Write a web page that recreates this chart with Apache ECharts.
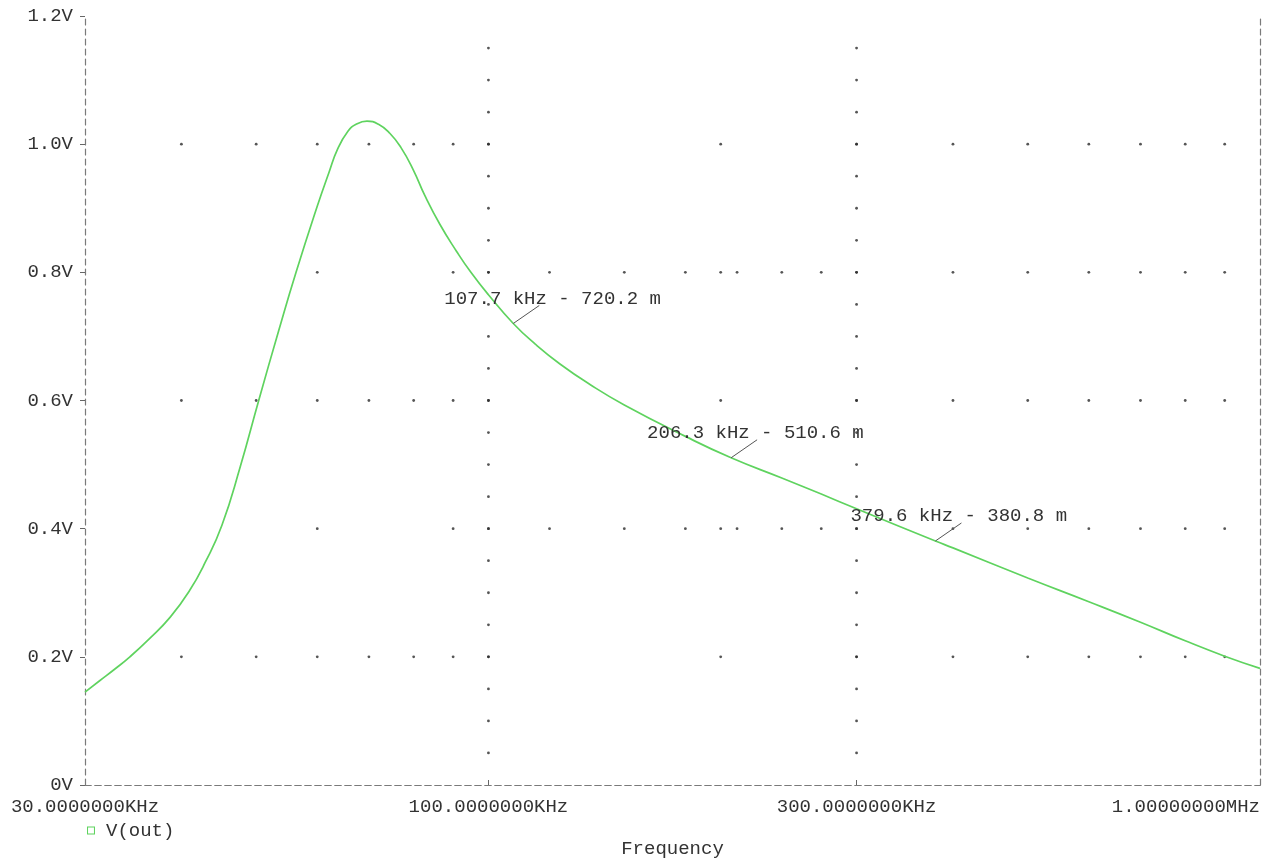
<!DOCTYPE html>
<html>
<head>
<meta charset="utf-8">
<script src="https://cdn.jsdelivr.net/npm/echarts@6/dist/echarts.min.js"></script>
<style>
html,body{margin:0;padding:0;background:#fff;}
#chart{width:1265px;height:863px;}
</style>
</head>
<body>
<div id="chart"></div>
<script>
// ---- Data (frequency in kHz, voltage in V) ----
const freqKHz = [30, 31.37, 32.8, 34.3, 36.34, 38.69, 40.97, 42.97, 45.13, 47.69, 50.38, 53.45, 56.32, 60.07, 62.1, 63.79, 65.75, 67.37, 69.6, 72.03, 74.5, 77.0, 79.9, 82.7, 86.5, 90.9, 94.9, 100, 107.7, 115, 123.8, 135.4, 150, 180, 206.3, 240, 270, 300, 379.6, 400, 500, 600, 700, 800, 900, 1000];
const vOut    = [0.145, 0.163, 0.181, 0.200, 0.228, 0.262, 0.303, 0.348, 0.405, 0.497, 0.600, 0.708, 0.800, 0.905, 0.955, 0.993, 1.020, 1.031, 1.036, 1.031, 1.017, 0.995, 0.960, 0.920, 0.875, 0.833, 0.800, 0.765, 0.7202, 0.688, 0.657, 0.625, 0.593, 0.544, 0.5106, 0.479, 0.454, 0.431, 0.3808, 0.370, 0.323, 0.286, 0.254, 0.225, 0.201, 0.182];

// Cursor markers
const markerFreqKHz = [107.7, 206.3, 379.6];
const markerMilliV  = [720.2, 510.6, 380.8];

// Axis ticks
const xTickHz     = [30000, 100000, 300000, 1000000];
const xTickLabels = ['30.0000000KHz', '100.0000000KHz', '300.0000000KHz', '1.00000000MHz'];
const xTickMarkHz = [100000, 300000];

// Dotted grid (PSpice style)
const dotRowsA     = [1.0, 0.6, 0.2];
const dotFreqsA    = [40, 50, 60, 70, 80, 90, 100, 200, 300, 400, 500, 600, 700, 800, 900];
const dotRowsB     = [0.8, 0.4];
const dotFreqsB    = [60, 90, 100, 120, 150, 180, 200, 210, 240, 270, 300, 400, 500, 600, 700, 800, 900];
const dotColFreqs  = [100, 300];
const dotColLevels = [0.05, 0.10, 0.15, 0.20, 0.25, 0.30, 0.35, 0.40, 0.45, 0.50, 0.55, 0.60, 0.65, 0.70, 0.75, 0.80, 0.85, 0.90, 0.95, 1.00, 1.05, 1.10, 1.15];

// ---- Build ----
const lg = hz => Math.log10(hz);
const curve = freqKHz.map((f, i) => [lg(f * 1000), vOut[i]]);
const dots = [];
dotRowsA.forEach(r => dotFreqsA.forEach(f => dots.push([lg(f * 1000), r])));
dotRowsB.forEach(r => dotFreqsB.forEach(f => dots.push([lg(f * 1000), r])));
dotColFreqs.forEach(f => dotColLevels.forEach(v => dots.push([lg(f * 1000), v])));
const markers = markerFreqKHz.map((f, i) => [lg(f * 1000), markerMilliV[i] / 1000]);
const markerLabelDx = [-69, -84, -85];

const xTickVals = xTickHz.map(lg);
const FONT = "'Liberation Mono', 'DejaVu Sans Mono', monospace";
const TXT = '#333';
const frameLine = { show: true, lineStyle: { color: '#7a7a7a', width: 1.2, type: [6, 4] } };

const chart = echarts.init(document.getElementById('chart'), null, { renderer: 'canvas' });
chart.setOption({
  animation: false,
  backgroundColor: '#fff',
  textStyle: { fontFamily: FONT },
  grid: { left: 85, right: 5, top: 16, bottom: 76, containLabel: false },
  legend: {
    data: [{ name: 'V(out)', icon: 'path://M0,0H10V10H0Z M1.3,1.3V8.7H8.7V1.3Z' }],
    left: 87, top: 821, padding: 0, itemWidth: 8, itemHeight: 8, itemGap: 10,
    textStyle: { fontFamily: FONT, fontSize: 19, color: TXT, padding: [0, 0, 0, 6] }
  },
  xAxis: [{
    type: 'value', position: 'bottom',
    min: lg(30000), max: 6,
    axisLine: frameLine,
    splitLine: { show: false },
    axisTick: { show: true, inside: true, length: 5, customValues: xTickMarkHz.map(lg), lineStyle: { color: '#666' } },
    axisLabel: {
      customValues: xTickVals, hideOverlap: false, margin: 12,
      fontFamily: FONT, fontSize: 19, color: TXT,
      alignMinLabel: 'center', alignMaxLabel: 'right',
      formatter: v => { const i = xTickVals.findIndex(t => Math.abs(t - v) < 1e-6); return i >= 0 ? xTickLabels[i] : ''; }
    },
    name: 'Frequency', nameLocation: 'middle', nameGap: 54,
    nameTextStyle: { fontFamily: FONT, fontSize: 19, color: TXT }
  }, {
    type: 'value', position: 'top',
    min: lg(30000), max: 6,
    axisLine: frameLine, axisTick: { show: false }, axisLabel: { show: false }, splitLine: { show: false }
  }],
  yAxis: [{
    type: 'value', position: 'left',
    min: 0, max: 1.2, interval: 0.2,
    axisLine: frameLine,
    splitLine: { show: false },
    axisTick: { show: true, length: 5, lineStyle: { color: '#666' } },
    axisLabel: {
      margin: 12, fontFamily: FONT, fontSize: 19, color: TXT,
      formatter: v => (Math.abs(v) < 1e-9 ? '0V' : v.toFixed(1) + 'V')
    }
  }, {
    type: 'value', position: 'right',
    min: 0, max: 1.2, interval: 0.2,
    axisLine: frameLine, axisTick: { show: false }, axisLabel: { show: false }, splitLine: { show: false }
  }],
  series: [{
    name: 'grid-dots', type: 'scatter', data: dots, symbol: 'circle', symbolSize: 2.8,
    itemStyle: { color: '#2a2a2a' }, silent: true, z: 1
  }, {
    name: 'V(out)', type: 'line', data: curve, smooth: 0.5, showSymbol: false,
    lineStyle: { color: '#5fd35f', width: 1.7 }, itemStyle: { color: '#5fd35f' }, z: 3
  }, {
    name: 'cursor', type: 'custom', data: markers, z: 4, clip: false,
    renderItem: (params, api) => {
      const p = api.coord([api.value(0), api.value(1)]);
      const i = params.dataIndex;
      return {
        type: 'group',
        children: [{
          type: 'line',
          shape: { x1: p[0], y1: p[1], x2: p[0] + 26, y2: p[1] - 18 },
          style: { stroke: '#555', lineWidth: 1 }
        }, {
          type: 'text',
          style: {
            text: markerFreqKHz[i].toFixed(1) + ' kHz - ' + markerMilliV[i].toFixed(1) + ' m',
            x: p[0] + markerLabelDx[i], y: p[1] - 25,
            font: '19px ' + FONT, fill: TXT, verticalAlign: 'middle', align: 'left'
          }
        }]
      };
    }
  }]
});
</script>
</body>
</html>
